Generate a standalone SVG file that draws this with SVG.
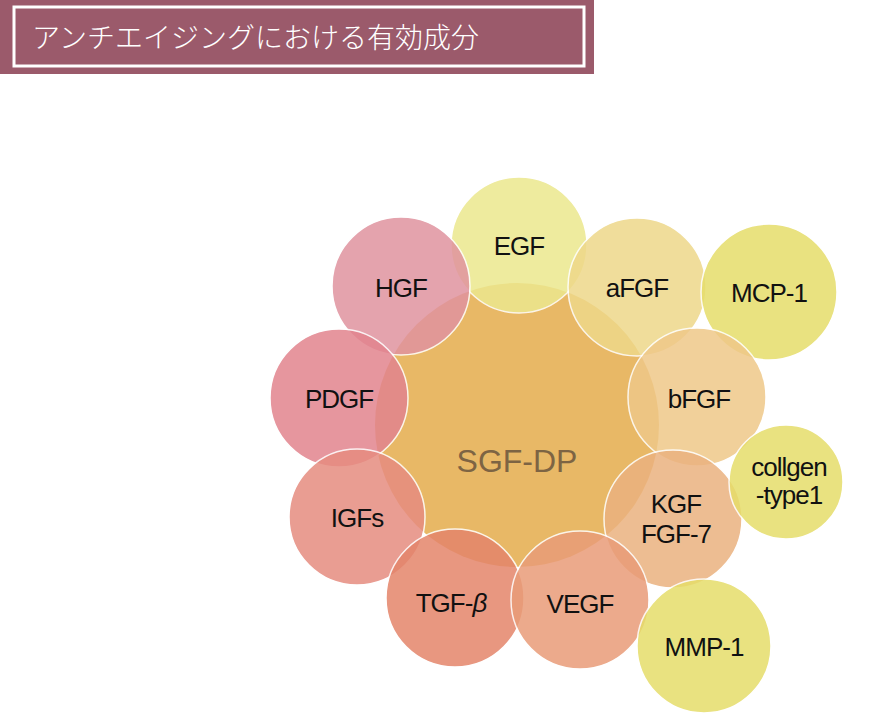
<svg xmlns="http://www.w3.org/2000/svg" width="882" height="716" viewBox="0 0 882 716">
<style>
.c{stroke:#fff;stroke-width:1.5;opacity:0.85}
.t{font-family:"Liberation Sans",Arial,sans-serif;font-size:26px;text-anchor:middle;fill:#111;letter-spacing:-1px}
</style>
<rect width="882" height="716" fill="#fff"/>
<g id="header">
<rect x="0" y="0" width="594" height="74" fill="#9b5a6b"/>
<rect x="14" y="7" width="570" height="59" fill="none" stroke="#fff" stroke-width="3"/>
<text x="32" y="48" font-family="'Noto Sans CJK JP',sans-serif" font-size="28" font-weight="300" fill="#fff">アンチエイジングにおける有効成分</text>
</g>
<g id="center"><circle cx="517" cy="425" r="142" fill="#e8b866"/></g>
<g id="connectors"/>
<g id="EGF"><circle class="c" cx="519" cy="245" r="68" fill="#ece88e"/><text class="t" x="519" y="255">EGF</text></g>
<g id="HGF"><circle class="c" cx="401" cy="286" r="69" fill="#e0939f"/><text class="t" x="401" y="297">HGF</text></g>
<g id="aFGF"><circle class="c" cx="637" cy="287" r="69" fill="#eed88a"/><text class="t" x="637" y="297">aFGF</text></g>
<g id="MCP-1"><circle class="c" cx="769" cy="292" r="68" fill="#e6dd6a"/><text class="t" x="769" y="302">MCP-1</text></g>
<g id="PDGF"><circle class="c" cx="339" cy="398" r="69" fill="#e2848e"/><text class="t" x="339" y="408">PDGF</text></g>
<g id="bFGF"><circle class="c" cx="697" cy="397" r="69" fill="#efc889"/><text class="t" x="699" y="408">bFGF</text></g>
<g id="IGFs"><circle class="c" cx="357" cy="517" r="68" fill="#e68c80"/><text class="t" x="357" y="527">IGFs</text></g>
<g id="KGF"><circle class="c" cx="673" cy="519" r="69" fill="#ebb27f"/><text class="t" x="676" y="513">KGF</text><text class="t" x="676" y="543">FGF-7</text></g>
<g id="collgen"><circle class="c" cx="786" cy="482" r="57" fill="#e6dd6a"/><text class="t" x="789" y="476">collgen</text><text class="t" x="789" y="504">-type1</text></g>
<g id="TGF"><circle class="c" cx="455" cy="598" r="69" fill="#e4856b"/><text class="t" x="451" y="612">TGF-<tspan font-style="italic">β</tspan></text></g>
<g id="VEGF"><circle class="c" cx="580" cy="600" r="69" fill="#e99c78"/><text class="t" x="580" y="613">VEGF</text></g>
<g id="MMP-1"><circle class="c" cx="704" cy="646" r="67" fill="#e6dd6a"/><text class="t" x="704" y="656">MMP-1</text></g>
<text x="517" y="472" font-family="'Liberation Sans',Arial,sans-serif" font-size="32" text-anchor="middle" fill="#7d6443">SGF-DP</text>
</svg>
